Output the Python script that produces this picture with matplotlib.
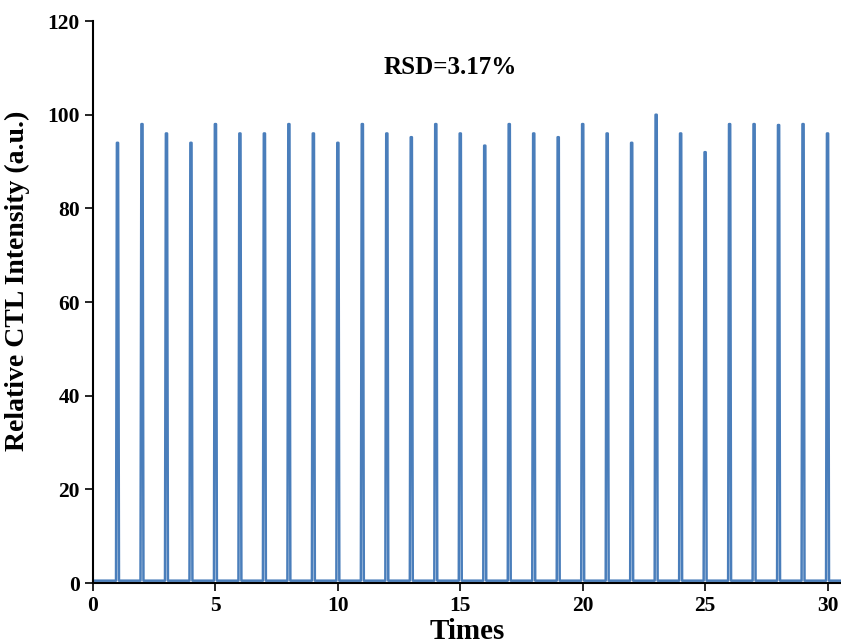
import numpy as np
import matplotlib.pyplot as plt

plt.rcParams['font.family'] = ['Liberation Serif', 'DejaVu Serif']
plt.rcParams['font.weight'] = 'bold'

# peak positions (run number) and peak heights
times = list(range(1, 31))
heights = [94, 98, 96, 94, 98, 96, 96, 98, 96, 94,
           98, 96, 95.2, 98, 96, 93.4, 98, 96, 95.2, 98,
           96, 94, 100, 96, 92, 98, 98, 97.8, 98, 96]
baseline = 0.5

# build the trace: flat baseline with a narrow spike at each run
half = 0.06
xs = [0.0]
ys = [baseline]
for t, h in zip(times, heights):
    xs += [t - half, t - half * 0.4, t + half * 0.4, t + half]
    ys += [baseline, h, h, baseline]
xs.append(31)
ys.append(baseline)

fig = plt.figure(figsize=(8.41, 6.44), dpi=100)
ax = fig.add_axes([0.1106, 0.0947, 0.8894, 0.8726])
ax.plot(xs, ys, color='#4a7ebb', lw=1.8)

ax.set_xlim(0, 30.55)
ax.set_ylim(0, 120)
ax.set_xticks([0, 5, 10, 15, 20, 25, 30])
ax.set_yticks([0, 20, 40, 60, 80, 100, 120])
ax.spines['top'].set_visible(False)
ax.spines['right'].set_visible(False)
ax.spines['left'].set_linewidth(1.5)
ax.spines['bottom'].set_linewidth(1.5)
ax.tick_params(direction='out', length=6, width=1.2, labelsize=15.5)
for lab in ax.get_xticklabels() + ax.get_yticklabels():
    lab.set_fontweight('bold')

ax.set_xlabel('Times', fontsize=21, fontweight='bold')
ax.xaxis.set_label_coords(0.5, -0.062)
ax.set_ylabel('Relative CTL Intensity (a.u.)', fontsize=20, fontweight='bold')
ax.yaxis.set_label_coords(-0.084, 0.537)
ax.text(14.6, 110, 'RSD=3.17%', fontsize=18, fontweight='bold', ha='center', va='center')

fig.savefig('out.png', dpi=100)
